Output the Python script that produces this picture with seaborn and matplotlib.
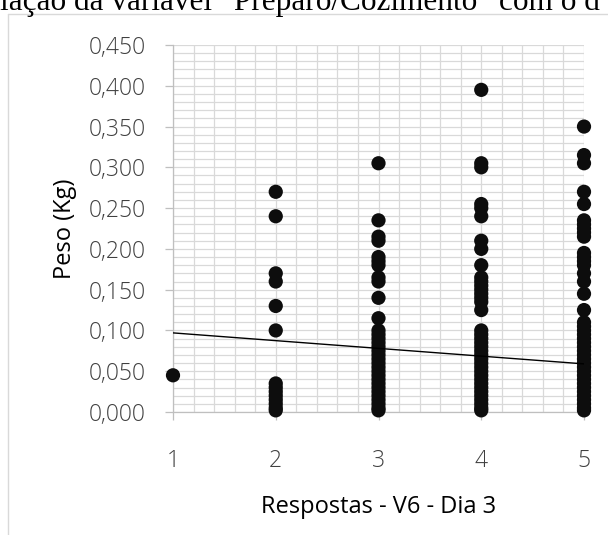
import matplotlib
matplotlib.use("Agg")
import matplotlib.pyplot as plt
import seaborn as sns
import pandas as pd
import numpy as np
from matplotlib.ticker import MultipleLocator, FuncFormatter
from matplotlib.lines import Line2D

# ---------------- data ----------------
cat1 = [0.045]
cat2 = [0.270, 0.240, 0.170, 0.160, 0.130, 0.100, 0.035, 0.030, 0.025, 0.020,
        0.015, 0.010, 0.005, 0.002]
cat3 = [0.305, 0.235, 0.215, 0.210, 0.190, 0.185, 0.180, 0.165, 0.160, 0.140,
        0.115, 0.100, 0.095, 0.090, 0.085, 0.080, 0.075, 0.070, 0.065, 0.060,
        0.055, 0.050, 0.045, 0.040, 0.035, 0.030, 0.025, 0.020, 0.015, 0.010,
        0.005, 0.002]
cat4 = [0.395, 0.305, 0.300, 0.255, 0.250, 0.240, 0.210, 0.200, 0.180, 0.165,
        0.160, 0.155, 0.150, 0.145, 0.140, 0.135, 0.125, 0.100, 0.095, 0.090,
        0.085, 0.080, 0.075, 0.070, 0.065, 0.060, 0.055, 0.050, 0.045, 0.040,
        0.035, 0.030, 0.025, 0.020, 0.015, 0.010, 0.005, 0.002]
cat5 = [0.350, 0.315, 0.305, 0.270, 0.255, 0.235, 0.230, 0.225, 0.220, 0.215,
        0.195, 0.190, 0.185, 0.180, 0.170, 0.160, 0.145, 0.125, 0.110, 0.105,
        0.100, 0.095, 0.090, 0.085, 0.080, 0.075, 0.070, 0.065, 0.060, 0.055,
        0.050, 0.045, 0.040, 0.035, 0.030, 0.025, 0.020, 0.015, 0.010, 0.005,
        0.002]
categories = [1, 2, 3, 4, 5]
trend_intercept = 0.1065
trend_slope = -0.0095

title_text = "lação da variável “Preparo/Cozimento” com o d"
x_label = "Respostas - V6 - Dia 3"
y_label = "Peso (Kg)"

rows = []
for c, vals in zip(categories, [cat1, cat2, cat3, cat4, cat5]):
    for v in vals:
        rows.append({"resposta": c, "peso": v})
df = pd.DataFrame(rows)

# ---------------- figure ----------------
sns.set_style("white")
plt.rcParams["font.family"] = ["Open Sans", "DejaVu Sans"]

W, H = 608, 535
fig = plt.figure(figsize=(W / 100, H / 100), dpi=100)
ax = fig.add_axes([173 / W, 1 - 412 / H, (584 - 173) / W, (412 - 45) / H])

sns.scatterplot(data=df, x="resposta", y="peso", ax=ax, s=105, color="#0d0d0d",
                edgecolor="none", linewidth=0, clip_on=False, zorder=3,
                legend=False)

xs = np.array([categories[0], categories[-1]], dtype=float)
ax.plot(xs, trend_intercept + trend_slope * xs, color="black", lw=1.0, zorder=4)

ax.set_xlim(1, 5)
ax.set_ylim(0, 0.45)
ax.xaxis.set_major_locator(MultipleLocator(1))
ax.xaxis.set_minor_locator(MultipleLocator(0.2))
ax.yaxis.set_major_locator(MultipleLocator(0.05))
ax.yaxis.set_minor_locator(MultipleLocator(0.01))
ax.yaxis.set_major_formatter(FuncFormatter(lambda v, p: f"{v:.3f}".replace(".", ",")))
ax.xaxis.set_major_formatter(FuncFormatter(lambda v, p: f"{int(round(v))}"))

ax.set_axisbelow(True)
ax.grid(which="both", color="#d9d9d9", lw=0.9)
for s in ["top", "right"]:
    ax.spines[s].set_visible(False)
for s in ["left", "bottom"]:
    ax.spines[s].set_color("#bfbfbf")
    ax.spines[s].set_linewidth(0.9)

ax.tick_params(which="major", length=5.8, width=0.9, color="#bfbfbf", pad=14,
               labelsize=16.5, labelcolor="#404040", direction="out",
               bottom=True, left=True)
ax.tick_params(axis="x", which="major", pad=21)
ax.tick_params(which="minor", length=0)
for lab in ax.get_xticklabels() + ax.get_yticklabels():
    lab.set_fontweight("light")

ax.set_xlabel(x_label, fontsize=17, color="#000000", labelpad=16)
ax.set_ylabel(y_label, fontsize=17, color="#000000", labelpad=8)

fig.text(0, 1 - 10 / H, title_text, family="Liberation Serif", fontsize=22.5,
         va="baseline", ha="left", color="black")

fig.add_artist(Line2D([8 / W, 8 / W], [0, 1 - 14 / H], color="#d9d9d9", lw=1,
                      transform=fig.transFigure))
fig.add_artist(Line2D([8 / W, 1], [1 - 14 / H, 1 - 14 / H], color="#d9d9d9", lw=1,
                      transform=fig.transFigure))

fig.savefig("out.png", dpi=100)
